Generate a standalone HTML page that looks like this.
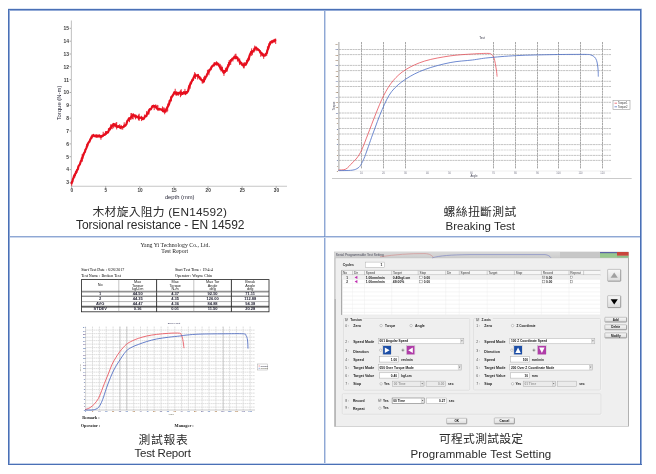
<!DOCTYPE html>
<html><head><meta charset="utf-8"><style>
html,body{margin:0;padding:0;background:#fff;}
body{width:656px;height:474px;position:relative;overflow:hidden;font-family:"Liberation Sans", "Noto Sans CJK TC", sans-serif;}
.cap{position:absolute;color:#2a2a2a;white-space:nowrap;line-height:1;}
</style></head><body>
<div style="position:absolute;left:8px;top:9px;width:634px;height:1px;background:#4a70b6"></div>
<div style="position:absolute;left:9px;top:10px;width:632px;height:1px;background:#93abd7"></div>
<div style="position:absolute;left:8px;top:8px;width:634px;height:1px;background:#dfe7f4"></div>
<div style="position:absolute;left:8px;top:9px;width:1px;height:456px;background:#4a70b6"></div>
<div style="position:absolute;left:9px;top:10px;width:1px;height:454px;background:#93abd7"></div>
<div style="position:absolute;left:640px;top:9px;width:1px;height:456px;background:#4a70b6"></div>
<div style="position:absolute;left:641px;top:9px;width:1px;height:456px;background:#93abd7"></div>
<div style="position:absolute;left:8px;top:464px;width:634px;height:1px;background:#4a70b6"></div>
<div style="position:absolute;left:10px;top:463px;width:630px;height:1px;background:#c3d1ea"></div>
<div style="position:absolute;left:324px;top:11px;width:1px;height:452px;background:#8fa8d4"></div>
<div style="position:absolute;left:325px;top:11px;width:1px;height:452px;background:#cbd7ed"></div>
<div style="position:absolute;left:10px;top:236px;width:630px;height:1px;background:#8fa8d4"></div>
<div style="position:absolute;left:10px;top:237px;width:630px;height:1px;background:#cbd7ed"></div>
<div style="position:absolute;left:324px;top:236px;width:1px;height:1px;background:#6f8fc6"></div>
<svg style="position:absolute;left:0;top:0" width="656" height="474" viewBox="0 0 656 474">
<line x1="71.4" y1="20.5" x2="71.4" y2="186.3" stroke="#c6c6c6" stroke-width="1.1"/>
<line x1="70.9" y1="186.3" x2="287" y2="186.3" stroke="#c6c6c6" stroke-width="1.1"/>
<line x1="69.6" y1="182.4" x2="71" y2="182.4" stroke="#777" stroke-width="0.6"/>
<text transform="translate(68.9,184.2) scale(0.95,1)" font-size="5.2" text-anchor="end" font-family="Liberation Sans, sans-serif" font-weight="bold" fill="#3a3a3a">3</text>
<line x1="69.6" y1="169.6" x2="71" y2="169.6" stroke="#777" stroke-width="0.6"/>
<text transform="translate(68.9,171.4) scale(0.95,1)" font-size="5.2" text-anchor="end" font-family="Liberation Sans, sans-serif" font-weight="bold" fill="#3a3a3a">4</text>
<line x1="69.6" y1="156.7" x2="71" y2="156.7" stroke="#777" stroke-width="0.6"/>
<text transform="translate(68.9,158.5) scale(0.95,1)" font-size="5.2" text-anchor="end" font-family="Liberation Sans, sans-serif" font-weight="bold" fill="#3a3a3a">5</text>
<line x1="69.6" y1="143.9" x2="71" y2="143.9" stroke="#777" stroke-width="0.6"/>
<text transform="translate(68.9,145.7) scale(0.95,1)" font-size="5.2" text-anchor="end" font-family="Liberation Sans, sans-serif" font-weight="bold" fill="#3a3a3a">6</text>
<line x1="69.6" y1="131.0" x2="71" y2="131.0" stroke="#777" stroke-width="0.6"/>
<text transform="translate(68.9,132.8) scale(0.95,1)" font-size="5.2" text-anchor="end" font-family="Liberation Sans, sans-serif" font-weight="bold" fill="#3a3a3a">7</text>
<line x1="69.6" y1="118.2" x2="71" y2="118.2" stroke="#777" stroke-width="0.6"/>
<text transform="translate(68.9,120.0) scale(0.95,1)" font-size="5.2" text-anchor="end" font-family="Liberation Sans, sans-serif" font-weight="bold" fill="#3a3a3a">8</text>
<line x1="69.6" y1="105.4" x2="71" y2="105.4" stroke="#777" stroke-width="0.6"/>
<text transform="translate(68.9,107.2) scale(0.95,1)" font-size="5.2" text-anchor="end" font-family="Liberation Sans, sans-serif" font-weight="bold" fill="#3a3a3a">9</text>
<line x1="69.6" y1="92.5" x2="71" y2="92.5" stroke="#777" stroke-width="0.6"/>
<text transform="translate(68.9,94.3) scale(0.95,1)" font-size="5.2" text-anchor="end" font-family="Liberation Sans, sans-serif" font-weight="bold" fill="#3a3a3a">10</text>
<line x1="69.6" y1="79.7" x2="71" y2="79.7" stroke="#777" stroke-width="0.6"/>
<text transform="translate(68.9,81.5) scale(0.95,1)" font-size="5.2" text-anchor="end" font-family="Liberation Sans, sans-serif" font-weight="bold" fill="#3a3a3a">11</text>
<line x1="69.6" y1="66.8" x2="71" y2="66.8" stroke="#777" stroke-width="0.6"/>
<text transform="translate(68.9,68.6) scale(0.95,1)" font-size="5.2" text-anchor="end" font-family="Liberation Sans, sans-serif" font-weight="bold" fill="#3a3a3a">12</text>
<line x1="69.6" y1="54.0" x2="71" y2="54.0" stroke="#777" stroke-width="0.6"/>
<text transform="translate(68.9,55.8) scale(0.95,1)" font-size="5.2" text-anchor="end" font-family="Liberation Sans, sans-serif" font-weight="bold" fill="#3a3a3a">13</text>
<line x1="69.6" y1="41.2" x2="71" y2="41.2" stroke="#777" stroke-width="0.6"/>
<text transform="translate(68.9,43.0) scale(0.95,1)" font-size="5.2" text-anchor="end" font-family="Liberation Sans, sans-serif" font-weight="bold" fill="#3a3a3a">14</text>
<line x1="69.6" y1="28.3" x2="71" y2="28.3" stroke="#777" stroke-width="0.6"/>
<text transform="translate(68.9,30.1) scale(0.95,1)" font-size="5.2" text-anchor="end" font-family="Liberation Sans, sans-serif" font-weight="bold" fill="#3a3a3a">15</text>
<line x1="71.6" y1="186.6" x2="71.6" y2="187.6" stroke="#555" stroke-width="0.8"/>
<text transform="translate(71.8,192.3) scale(0.9,1)" font-size="5.2" text-anchor="middle" font-family="Liberation Sans, sans-serif" font-weight="bold" fill="#3a3a3a">0</text>
<line x1="105.7" y1="186.6" x2="105.7" y2="187.6" stroke="#555" stroke-width="0.8"/>
<text transform="translate(105.9,192.3) scale(0.9,1)" font-size="5.2" text-anchor="middle" font-family="Liberation Sans, sans-serif" font-weight="bold" fill="#3a3a3a">5</text>
<line x1="139.8" y1="186.6" x2="139.8" y2="187.6" stroke="#555" stroke-width="0.8"/>
<text transform="translate(140.0,192.3) scale(0.9,1)" font-size="5.2" text-anchor="middle" font-family="Liberation Sans, sans-serif" font-weight="bold" fill="#3a3a3a">10</text>
<line x1="173.9" y1="186.6" x2="173.9" y2="187.6" stroke="#555" stroke-width="0.8"/>
<text transform="translate(174.1,192.3) scale(0.9,1)" font-size="5.2" text-anchor="middle" font-family="Liberation Sans, sans-serif" font-weight="bold" fill="#3a3a3a">15</text>
<line x1="208.0" y1="186.6" x2="208.0" y2="187.6" stroke="#555" stroke-width="0.8"/>
<text transform="translate(208.2,192.3) scale(0.9,1)" font-size="5.2" text-anchor="middle" font-family="Liberation Sans, sans-serif" font-weight="bold" fill="#3a3a3a">20</text>
<line x1="242.1" y1="186.6" x2="242.1" y2="187.6" stroke="#555" stroke-width="0.8"/>
<text transform="translate(242.3,192.3) scale(0.9,1)" font-size="5.2" text-anchor="middle" font-family="Liberation Sans, sans-serif" font-weight="bold" fill="#3a3a3a">25</text>
<line x1="276.2" y1="186.6" x2="276.2" y2="187.6" stroke="#555" stroke-width="0.8"/>
<text transform="translate(276.4,192.3) scale(0.9,1)" font-size="5.2" text-anchor="middle" font-family="Liberation Sans, sans-serif" font-weight="bold" fill="#3a3a3a">30</text>
<text transform="translate(179.7,198.5) scale(1.0,1)" font-size="5.8" text-anchor="middle" font-family="Liberation Sans, sans-serif" fill="#2a2a3a">depth (mm)</text>
<text transform="translate(60.8,103) rotate(-90) scale(1.02,1)" font-size="5.8" text-anchor="middle" font-family="Liberation Sans, sans-serif" fill="#2a2a3a">Torque (N-m)</text>
<polyline points="71.40,184.02 71.90,182.22 72.40,181.50 72.90,179.06 73.40,178.28 73.90,176.49 74.40,175.13 74.90,174.99 75.40,173.38 75.90,173.15 76.40,171.71 76.90,170.46 77.40,169.70 77.90,169.06 78.40,166.64 78.90,165.51 79.40,164.96 79.90,164.29 80.40,162.52 80.90,161.05 81.40,160.80 81.90,158.13 82.40,158.25 82.90,156.16 83.40,154.75 83.90,153.52 84.40,152.55 84.90,152.05 85.40,149.73 85.90,149.06 86.40,147.85 86.90,146.30 87.40,145.58 87.90,143.80 88.40,142.80 88.90,142.03 89.40,141.78 89.90,140.35 90.40,139.15 90.90,138.56 91.40,137.33 91.90,136.38 92.40,136.67 92.90,136.02 93.40,134.91 93.90,135.55 94.40,135.58 94.90,136.24 95.40,136.12 95.90,135.52 96.40,136.73 96.90,135.46 97.40,136.05 97.90,136.61 98.40,135.64 98.90,136.18 99.40,135.46 99.90,136.47 100.40,136.62 100.90,136.32 101.40,136.80 101.90,135.83 102.40,136.10 102.90,135.60 103.40,135.24 103.90,134.70 104.40,134.97 104.90,134.75 105.40,133.62 105.90,133.54 106.40,132.19 106.90,132.83 107.40,132.36 107.90,132.43 108.40,131.52 108.90,130.03 109.40,129.55 109.90,129.37 110.40,127.70 110.90,127.77 111.40,126.65 111.90,125.91 112.40,125.16 112.90,125.64 113.40,123.97 113.90,124.05 114.40,124.53 114.90,125.54 115.40,124.53 115.90,125.37 116.40,125.78 116.90,126.56 117.40,126.65 117.90,126.89 118.40,126.12 118.90,126.51 119.40,126.59 119.90,127.60 120.40,127.89 120.90,126.77 121.40,126.98 121.90,127.24 122.40,127.04 122.90,127.15 123.40,127.03 123.90,126.21 124.40,125.51 124.90,125.88 125.40,125.51 125.90,124.90 126.40,124.18 126.90,122.42 127.40,120.79 127.90,120.29 128.40,119.88 128.90,118.39 129.40,119.24 129.90,118.55 130.40,118.20 130.90,117.62 131.40,116.60 131.90,116.23 132.40,115.37 132.90,115.84 133.40,114.82 133.90,115.12 134.40,115.65 134.90,115.87 135.40,116.45 135.90,116.29 136.40,116.50 136.90,116.83 137.40,116.85 137.90,117.36 138.40,116.91 138.90,118.36 139.40,118.04 139.90,117.38 140.40,117.64 140.90,117.87 141.40,117.97 141.90,117.66 142.40,118.91 142.90,119.22 143.40,118.45 143.90,118.56 144.40,117.43 144.90,116.81 145.40,116.56 145.90,115.79 146.40,116.05 146.90,114.15 147.40,113.05 147.90,113.66 148.40,112.10 148.90,110.61 149.40,110.52 149.90,109.01 150.40,109.12 150.90,109.15 151.40,108.28 151.90,107.33 152.40,106.17 152.90,106.22 153.40,105.78 153.90,106.63 154.40,106.12 154.90,106.60 155.40,106.27 155.90,106.49 156.40,107.83 156.90,108.49 157.40,108.67 157.90,108.99 158.40,109.26 158.90,109.38 159.40,108.81 159.90,109.53 160.40,109.52 160.90,109.25 161.40,109.49 161.90,110.08 162.40,110.13 162.90,110.90 163.40,111.40 163.90,110.66 164.40,111.53 164.90,111.69 165.40,111.71 165.90,110.08 166.40,108.97 166.90,108.10 167.40,107.17 167.90,106.30 168.40,105.60 168.90,104.54 169.40,102.94 169.90,100.87 170.40,100.05 170.90,99.19 171.40,96.95 171.90,96.77 172.40,96.07 172.90,95.13 173.40,94.42 173.90,93.32 174.40,92.19 174.90,93.24 175.40,92.59 175.90,93.42 176.40,93.77 176.90,92.93 177.40,93.02 177.90,93.97 178.40,93.65 178.90,92.74 179.40,92.65 179.90,92.67 180.40,93.85 180.90,93.67 181.40,92.59 181.90,93.66 182.40,93.89 182.90,93.35 183.40,92.83 183.90,93.13 184.40,92.44 184.90,92.23 185.40,93.61 185.90,92.86 186.40,92.42 186.90,92.83 187.40,91.79 187.90,91.49 188.40,89.92 188.90,87.44 189.40,86.00 189.90,84.95 190.40,83.85 190.90,83.38 191.40,81.84 191.90,81.07 192.40,79.62 192.90,79.88 193.40,78.01 193.90,77.19 194.40,76.41 194.90,75.94 195.40,74.68 195.90,75.73 196.40,75.33 196.90,75.63 197.40,75.88 197.90,75.42 198.40,76.58 198.90,76.66 199.40,76.85 199.90,78.61 200.40,78.09 200.90,79.06 201.40,79.96 201.90,80.19 202.40,80.32 202.90,81.13 203.40,81.69 203.90,81.24 204.40,79.34 204.90,79.25 205.40,77.87 205.90,76.78 206.40,76.43 206.90,74.86 207.40,73.81 207.90,73.07 208.40,72.58 208.90,71.10 209.40,70.64 209.90,69.74 210.40,69.02 210.90,68.55 211.40,67.40 211.90,66.77 212.40,65.92 212.90,65.91 213.40,65.14 213.90,65.04 214.40,64.77 214.90,63.30 215.40,63.40 215.90,64.26 216.40,64.34 216.90,63.47 217.40,63.69 217.90,64.46 218.40,64.41 218.90,65.30 219.40,65.65 219.90,67.23 220.40,68.03 220.90,68.90 221.40,68.41 221.90,70.01 222.40,70.63 222.90,70.50 223.40,72.39 223.90,72.80 224.40,71.22 224.90,72.01 225.40,70.75 225.90,70.51 226.40,70.68 226.90,69.40 227.40,67.31 227.90,66.72 228.40,65.84 228.90,64.50 229.40,63.16 229.90,62.24 230.40,61.78 230.90,60.03 231.40,60.39 231.90,59.70 232.40,58.53 232.90,58.53 233.40,58.50 233.90,57.82 234.40,56.60 234.90,57.58 235.40,57.29 235.90,57.96 236.40,56.96 236.90,57.59 237.40,57.61 237.90,59.40 238.40,59.35 238.90,59.88 239.40,61.11 239.90,62.65 240.40,63.11 240.90,62.71 241.40,63.04 241.90,64.77 242.40,64.71 242.90,65.42 243.40,64.79 243.90,64.48 244.40,65.23 244.90,64.55 245.40,63.72 245.90,64.71 246.40,63.26 246.90,62.57 247.40,60.46 247.90,60.73 248.40,58.51 248.90,58.38 249.40,56.33 249.90,54.74 250.40,53.68 250.90,52.88 251.40,51.71 251.90,51.37 252.40,51.88 252.90,51.30 253.40,50.98 253.90,50.30 254.40,49.36 254.90,48.84 255.40,48.26 255.90,47.49 256.40,48.70 256.90,48.43 257.40,49.24 257.90,49.21 258.40,49.96 258.90,49.94 259.40,50.83 259.90,50.97 260.40,52.63 260.90,52.86 261.40,52.80 261.90,53.75 262.40,54.96 262.90,54.12 263.40,55.74 263.90,55.60 264.40,55.74 264.90,55.64 265.40,54.29 265.90,53.83 266.40,53.48 266.90,52.91 267.40,50.23 267.90,49.35 268.40,47.49 268.90,46.12 269.40,44.75 269.90,43.66 270.40,42.19 270.90,41.92 271.40,41.58 271.90,42.41 272.40,41.40 272.90,41.01 273.40,40.60 273.90,41.51 274.40,41.26 274.90,40.64 275.40,39.73 275.90,39.37" fill="none" stroke="#e60f1e" stroke-width="2.2" stroke-linejoin="round"/>
<path d="M71.70,181.21V185.82M74.70,174.12V177.98M75.45,171.09V176.32M76.95,168.97V172.88M77.70,166.69V170.25M82.20,153.98V161.69M83.70,153.41V155.81M86.70,143.89V148.10M91.95,134.53V138.70M97.20,134.94V137.34M100.20,135.00V138.18M100.95,135.00V139.78M103.20,131.81V136.45M105.45,131.21V134.82M106.20,131.85V134.99M106.95,131.27V133.67M108.45,128.03V133.03M109.95,127.84V130.24M110.70,124.31V129.28M111.45,124.81V128.31M112.20,124.93V129.19M113.70,123.15V128.28M115.20,123.90V126.96M115.95,122.59V127.61M116.70,122.03V129.45M118.20,125.21V127.61M119.70,124.18V128.12M121.20,124.97V129.47M122.70,126.09V129.73M124.20,122.32V127.62M129.45,117.35V122.16M130.95,113.09V120.04M131.70,112.97V117.74M132.45,114.77V119.11M133.20,113.21V119.37M134.70,115.09V117.49M135.45,114.47V119.36M136.20,114.76V118.38M138.45,114.62V120.29M139.20,113.69V120.82M141.45,115.80V121.07M144.45,114.52V119.22M146.70,111.02V116.25M148.95,108.92V114.52M154.20,104.92V110.13M155.70,104.38V107.98M157.20,104.89V109.15M157.95,105.28V111.05M162.45,106.41V111.72M163.20,107.64V111.84M163.95,107.35V111.96M164.70,108.26V114.31M165.45,109.79V112.19M166.95,107.25V112.22M167.70,103.50V111.21M169.20,100.20V104.20M170.70,96.84V100.35M171.45,95.56V101.46M175.20,88.78V94.03M175.95,91.74V95.64M176.70,91.26V95.71M178.20,92.10V95.96M180.45,90.27V97.21M181.20,89.22V95.96M183.45,91.12V94.27M184.20,91.84V94.24M184.95,88.91V94.21M185.70,91.51V95.17M186.45,91.15V93.55M188.70,85.56V89.70M190.20,81.84V88.70M190.95,81.94V84.34M193.95,74.49V78.36M194.70,72.08V77.64M195.45,73.63V78.98M197.70,73.97V79.50M198.45,73.93V77.93M202.20,79.20V83.56M202.95,79.95V83.54M203.70,77.19V82.31M204.45,75.70V82.24M207.45,69.83V74.80M208.95,69.03V75.25M211.20,66.58V70.21M213.45,63.58V65.98M214.20,62.07V66.62M216.45,61.24V65.02M217.20,61.91V65.40M218.70,62.72V66.67M220.20,63.86V69.81M220.95,67.13V71.49M221.70,65.51V70.59M222.45,66.89V72.26M223.95,70.81V75.93M225.45,67.75V72.07M226.95,67.57V71.78M227.70,64.19V68.44M228.45,61.98V66.91M229.20,60.03V65.29M230.70,59.80V64.97M232.95,57.55V61.52M235.20,53.92V59.40M235.95,53.71V58.45M236.70,56.62V59.02M237.45,57.19V61.62M239.70,58.49V65.07M240.45,60.79V63.85M241.95,62.95V65.35M243.45,63.37V68.26M244.20,62.01V68.36M244.95,63.44V65.84M246.45,60.24V64.15M247.20,60.31V62.71M249.45,55.06V60.36M250.95,50.99V53.39M251.70,48.39V55.96M252.45,50.63V54.83M253.95,47.75V52.65M254.70,45.58V50.82M256.20,46.89V51.16M257.70,48.33V50.73M259.95,50.60V53.00M260.70,51.37V56.75M262.20,52.88V56.30M263.70,54.32V58.85M266.70,50.92V56.08M267.45,46.36V52.66M268.95,43.15V48.46M269.70,43.10V45.50M270.45,41.60V44.92M271.95,39.97V43.20M274.20,38.96V41.99M275.70,38.70V43.95" fill="none" stroke="#e60f1e" stroke-width="0.9"/>
</svg>
<svg style="position:absolute;left:0;top:0" width="656" height="474" viewBox="0 0 656 474">
<line x1="339" y1="49.5" x2="611" y2="49.5" stroke="#c4c4c4" stroke-width="1" stroke-dasharray="2.2,0.5"/>
<line x1="339" y1="54.6" x2="611" y2="54.6" stroke="#c4c4c4" stroke-width="1" stroke-dasharray="2.2,0.5"/>
<line x1="339" y1="65.4" x2="611" y2="65.4" stroke="#c4c4c4" stroke-width="1" stroke-dasharray="2.2,0.5"/>
<line x1="339" y1="70.6" x2="611" y2="70.6" stroke="#c4c4c4" stroke-width="1" stroke-dasharray="2.2,0.5"/>
<line x1="339" y1="81.3" x2="611" y2="81.3" stroke="#c4c4c4" stroke-width="1" stroke-dasharray="2.2,0.5"/>
<line x1="339" y1="86.5" x2="611" y2="86.5" stroke="#c4c4c4" stroke-width="1" stroke-dasharray="2.2,0.5"/>
<line x1="339" y1="97.2" x2="611" y2="97.2" stroke="#c4c4c4" stroke-width="1" stroke-dasharray="2.2,0.5"/>
<line x1="339" y1="102.3" x2="611" y2="102.3" stroke="#c4c4c4" stroke-width="1" stroke-dasharray="2.2,0.5"/>
<line x1="339" y1="113.0" x2="611" y2="113.0" stroke="#c4c4c4" stroke-width="1" stroke-dasharray="2.2,0.5"/>
<line x1="339" y1="118.2" x2="611" y2="118.2" stroke="#c4c4c4" stroke-width="1" stroke-dasharray="2.2,0.5"/>
<line x1="339" y1="128.5" x2="611" y2="128.5" stroke="#c4c4c4" stroke-width="1" stroke-dasharray="2.2,0.5"/>
<line x1="339" y1="134.0" x2="611" y2="134.0" stroke="#c4c4c4" stroke-width="1" stroke-dasharray="2.2,0.5"/>
<line x1="339" y1="144.6" x2="611" y2="144.6" stroke="#c4c4c4" stroke-width="1" stroke-dasharray="2.2,0.5"/>
<line x1="339" y1="150.0" x2="611" y2="150.0" stroke="#d8d8d8" stroke-width="1" stroke-dasharray="2.2,0.5"/>
<line x1="339" y1="155.4" x2="611" y2="155.4" stroke="#c4c4c4" stroke-width="1" stroke-dasharray="2.2,0.5"/>
<line x1="339" y1="160.4" x2="611" y2="160.4" stroke="#c4c4c4" stroke-width="1" stroke-dasharray="2.2,0.5"/>
<line x1="361.5" y1="42" x2="361.5" y2="168.5" stroke="#a8a8a8" stroke-width="1" stroke-dasharray="2.2,0.5"/>
<text x="361.5" y="173.6" font-size="2.6" text-anchor="middle" fill="#778">10</text>
<line x1="383.5" y1="42" x2="383.5" y2="168.5" stroke="#a8a8a8" stroke-width="1" stroke-dasharray="2.2,0.5"/>
<text x="383.5" y="173.6" font-size="2.6" text-anchor="middle" fill="#778">20</text>
<line x1="405.5" y1="42" x2="405.5" y2="168.5" stroke="#a8a8a8" stroke-width="1" stroke-dasharray="2.2,0.5"/>
<text x="405.5" y="173.6" font-size="2.6" text-anchor="middle" fill="#778">30</text>
<text x="427.5" y="173.6" font-size="2.6" text-anchor="middle" fill="#778">40</text>
<text x="449.5" y="173.6" font-size="2.6" text-anchor="middle" fill="#778">50</text>
<text x="471.5" y="173.6" font-size="2.6" text-anchor="middle" fill="#778">60</text>
<line x1="493.5" y1="42" x2="493.5" y2="168.5" stroke="#a8a8a8" stroke-width="1" stroke-dasharray="2.2,0.5"/>
<text x="493.5" y="173.6" font-size="2.6" text-anchor="middle" fill="#778">70</text>
<line x1="515.5" y1="42" x2="515.5" y2="168.5" stroke="#a8a8a8" stroke-width="1" stroke-dasharray="2.2,0.5"/>
<text x="515.5" y="173.6" font-size="2.6" text-anchor="middle" fill="#778">80</text>
<line x1="537.5" y1="42" x2="537.5" y2="168.5" stroke="#a8a8a8" stroke-width="1" stroke-dasharray="2.2,0.5"/>
<text x="537.5" y="173.6" font-size="2.6" text-anchor="middle" fill="#778">90</text>
<line x1="558.5" y1="42" x2="558.5" y2="168.5" stroke="#a8a8a8" stroke-width="1" stroke-dasharray="2.2,0.5"/>
<text x="558.5" y="173.6" font-size="2.6" text-anchor="middle" fill="#778">100</text>
<line x1="580.5" y1="42" x2="580.5" y2="168.5" stroke="#a8a8a8" stroke-width="1" stroke-dasharray="2.2,0.5"/>
<text x="580.5" y="173.6" font-size="2.6" text-anchor="middle" fill="#778">110</text>
<line x1="602.5" y1="42" x2="602.5" y2="168.5" stroke="#a8a8a8" stroke-width="1" stroke-dasharray="2.2,0.5"/>
<text x="602.5" y="173.6" font-size="2.6" text-anchor="middle" fill="#778">120</text>
<line x1="338.9" y1="42" x2="338.9" y2="171" stroke="#8c8c8c" stroke-width="0.8"/>
<line x1="339" y1="171" x2="611" y2="171" stroke="#e4e4e4" stroke-width="0.6"/>
<text x="338.1" y="45.1" font-size="2.3" font-weight="bold" text-anchor="end" fill="#8a6a4a">24</text>
<text x="338.1" y="50.4" font-size="2.3" font-weight="bold" text-anchor="end" fill="#5a6a9a">23</text>
<text x="338.1" y="55.6" font-size="2.3" font-weight="bold" text-anchor="end" fill="#9a7a5a">22</text>
<text x="338.1" y="60.9" font-size="2.3" font-weight="bold" text-anchor="end" fill="#8a6a4a">21</text>
<text x="338.1" y="66.2" font-size="2.3" font-weight="bold" text-anchor="end" fill="#5a6a9a">20</text>
<text x="338.1" y="71.5" font-size="2.3" font-weight="bold" text-anchor="end" fill="#9a7a5a">19</text>
<text x="338.1" y="76.7" font-size="2.3" font-weight="bold" text-anchor="end" fill="#8a6a4a">18</text>
<text x="338.1" y="82.0" font-size="2.3" font-weight="bold" text-anchor="end" fill="#5a6a9a">17</text>
<text x="338.1" y="87.3" font-size="2.3" font-weight="bold" text-anchor="end" fill="#9a7a5a">16</text>
<text x="338.1" y="92.6" font-size="2.3" font-weight="bold" text-anchor="end" fill="#8a6a4a">15</text>
<text x="338.1" y="97.9" font-size="2.3" font-weight="bold" text-anchor="end" fill="#5a6a9a">14</text>
<text x="338.1" y="103.1" font-size="2.3" font-weight="bold" text-anchor="end" fill="#9a7a5a">13</text>
<text x="338.1" y="108.4" font-size="2.3" font-weight="bold" text-anchor="end" fill="#8a6a4a">12</text>
<text x="338.1" y="113.7" font-size="2.3" font-weight="bold" text-anchor="end" fill="#5a6a9a">11</text>
<text x="338.1" y="119.0" font-size="2.3" font-weight="bold" text-anchor="end" fill="#9a7a5a">10</text>
<text x="338.1" y="124.2" font-size="2.3" font-weight="bold" text-anchor="end" fill="#8a6a4a">9</text>
<text x="338.1" y="129.5" font-size="2.3" font-weight="bold" text-anchor="end" fill="#5a6a9a">8</text>
<text x="338.1" y="134.8" font-size="2.3" font-weight="bold" text-anchor="end" fill="#9a7a5a">7</text>
<text x="338.1" y="140.1" font-size="2.3" font-weight="bold" text-anchor="end" fill="#8a6a4a">6</text>
<text x="338.1" y="145.3" font-size="2.3" font-weight="bold" text-anchor="end" fill="#5a6a9a">5</text>
<text x="338.1" y="150.6" font-size="2.3" font-weight="bold" text-anchor="end" fill="#9a7a5a">4</text>
<text x="338.1" y="155.9" font-size="2.3" font-weight="bold" text-anchor="end" fill="#8a6a4a">3</text>
<text x="338.1" y="161.2" font-size="2.3" font-weight="bold" text-anchor="end" fill="#5a6a9a">2</text>
<text x="338.1" y="166.5" font-size="2.3" font-weight="bold" text-anchor="end" fill="#9a7a5a">1</text>
<text x="338.1" y="171.7" font-size="2.3" font-weight="bold" text-anchor="end" fill="#8a6a4a">0</text>
<line x1="332" y1="178.5" x2="631.7" y2="178.5" stroke="#bdbdbd" stroke-width="0.8"/>
<text x="482" y="39" font-size="3" text-anchor="middle" fill="#334">Test</text>
<text transform="translate(334.5,106) rotate(-90)" font-size="2.8" text-anchor="middle" fill="#445">Torque</text>
<text x="474" y="177" font-size="2.8" text-anchor="middle" fill="#445">Angle</text>
<path d="M338.50,170.00 C339.72,169.85 343.53,170.27 345.80,169.10 C348.07,167.93 350.25,164.85 352.10,163.00 C353.95,161.15 355.32,160.15 356.90,158.00 C358.48,155.85 359.77,154.05 361.60,150.10 C363.43,146.15 365.53,140.35 367.90,134.30 C370.27,128.25 373.17,120.27 375.80,113.80 C378.43,107.33 380.80,101.03 383.70,95.50 C386.60,89.97 389.50,84.93 393.20,80.60 C396.90,76.27 400.63,72.77 405.90,69.50 C411.17,66.23 417.43,63.27 424.80,61.00 C432.17,58.73 442.18,57.07 450.10,55.90 C458.02,54.73 465.98,54.42 472.30,54.00 C478.62,53.58 484.80,53.35 488.00,53.40 C491.20,53.45 490.53,53.62 491.50,54.30 C492.47,54.98 493.17,55.97 493.80,57.50 C494.43,59.03 494.87,61.42 495.30,63.50 C495.73,65.58 496.10,67.82 496.40,70.00 C496.70,72.18 496.98,75.50 497.10,76.60" fill="none" stroke="#e4525a" stroke-width="0.8"/>
<path d="M338.50,170.60 C340.77,170.53 348.85,170.63 352.10,170.20 C355.35,169.77 356.52,168.95 358.00,168.00 C359.48,167.05 359.87,166.42 361.00,164.50 C362.13,162.58 362.85,161.53 364.80,156.50 C366.75,151.47 369.80,142.13 372.70,134.30 C375.60,126.47 379.05,116.62 382.20,109.50 C385.35,102.38 387.65,96.68 391.60,91.60 C395.55,86.52 400.37,82.68 405.90,79.00 C411.43,75.32 417.43,72.23 424.80,69.50 C432.17,66.77 442.18,64.18 450.10,62.60 C458.02,61.02 465.98,60.80 472.30,60.00 C478.62,59.20 480.62,58.53 488.00,57.80 C495.38,57.07 505.73,56.13 516.60,55.60 C527.47,55.07 541.80,54.80 553.20,54.60 C564.60,54.40 578.70,54.33 585.00,54.40 C591.30,54.47 589.42,54.57 591.00,55.00 C592.58,55.43 593.57,56.08 594.50,57.00 C595.43,57.92 596.07,59.00 596.60,60.50 C597.13,62.00 597.43,64.08 597.70,66.00 C597.97,67.92 598.10,70.23 598.20,72.00 C598.30,73.77 598.28,75.83 598.30,76.60" fill="none" stroke="#4a6cc4" stroke-width="0.8"/>
<rect x="613" y="100.5" width="17" height="9" fill="#fff" stroke="#999" stroke-width="0.6"/>
<line x1="614.5" y1="103.2" x2="617" y2="103.2" stroke="#e8404a" stroke-width="0.7"/>
<line x1="614.5" y1="106.8" x2="617" y2="106.8" stroke="#3d63c0" stroke-width="0.7"/>
<text x="618" y="104" font-size="2.6" fill="#333">Torque1</text>
<text x="618" y="107.6" font-size="2.6" fill="#333">Torque2</text>
</svg>
<div class="m" style="position:absolute;left:140.5px;top:242.6px;font-size:5.8px;line-height:1;white-space:nowrap;font-family:'Liberation Serif',serif;color:#222;">Yang Yi Technology Co., Ltd.</div>
<div class="m" style="position:absolute;left:161.3px;top:249.4px;font-size:5.8px;line-height:1;white-space:nowrap;font-family:'Liberation Serif',serif;color:#222;">Test Report</div>
<div class="m" style="position:absolute;left:81.2px;top:267.8px;font-size:4.0px;line-height:1;white-space:nowrap;font-family:'Liberation Serif',serif;color:#000;">Start Test Date : 6/26/2017</div>
<div class="m" style="position:absolute;left:175px;top:267.8px;font-size:4.0px;line-height:1;white-space:nowrap;font-family:'Liberation Serif',serif;color:#000;">Start Test Time : 19:4:4</div>
<div class="m" style="position:absolute;left:81.2px;top:274.4px;font-size:4.0px;line-height:1;white-space:nowrap;font-family:'Liberation Serif',serif;color:#000;">Test Name : Broken Test</div>
<div class="m" style="position:absolute;left:175px;top:274.4px;font-size:4.0px;line-height:1;white-space:nowrap;font-family:'Liberation Serif',serif;color:#000;">Operator : Wayne Chin</div>
<svg style="position:absolute;left:0;top:0" width="656" height="474" viewBox="0 0 656 474">
<rect x="81.5" y="279.6" width="187.5" height="32.19999999999999" fill="none" stroke="#222" stroke-width="0.8"/>
<line x1="118.8" y1="279.6" x2="118.8" y2="311.8" stroke="#888" stroke-width="0.5"/>
<line x1="156.6" y1="279.6" x2="156.6" y2="311.8" stroke="#222" stroke-width="0.9"/>
<line x1="193.8" y1="279.6" x2="193.8" y2="311.8" stroke="#888" stroke-width="0.5"/>
<line x1="231.4" y1="279.6" x2="231.4" y2="311.8" stroke="#222" stroke-width="0.9"/>
<line x1="81.5" y1="291.3" x2="269" y2="291.3" stroke="#444" stroke-width="0.7"/>
<line x1="81.5" y1="292.3" x2="269" y2="292.3" stroke="#777" stroke-width="0.5"/>
<line x1="81.5" y1="296.2" x2="269" y2="296.2" stroke="#333" stroke-width="0.8"/>
<line x1="81.5" y1="301.6" x2="269" y2="301.6" stroke="#666" stroke-width="0.5"/>
<line x1="81.5" y1="306.3" x2="269" y2="306.3" stroke="#222" stroke-width="0.9"/>
<line x1="81.5" y1="307.5" x2="269" y2="307.5" stroke="#555" stroke-width="0.6"/>
</svg>
<div class="m" style="position:absolute;left:85.2px;width:30px;text-align:center;top:284.2px;font-size:3.8px;line-height:1;font-family:'Liberation Sans',sans-serif;color:#222">No</div>
<div class="m" style="position:absolute;left:122.7px;width:30px;text-align:center;top:281.0px;font-size:3.8px;line-height:1;font-family:'Liberation Sans',sans-serif;color:#222">Max</div>
<div class="m" style="position:absolute;left:122.7px;width:30px;text-align:center;top:284.7px;font-size:3.8px;line-height:1;font-family:'Liberation Sans',sans-serif;color:#222">Torque</div>
<div class="m" style="position:absolute;left:122.7px;width:30px;text-align:center;top:288.4px;font-size:3.8px;line-height:1;font-family:'Liberation Sans',sans-serif;color:#222">kgf-cm</div>
<div class="m" style="position:absolute;left:160.2px;width:30px;text-align:center;top:281.0px;font-size:3.8px;line-height:1;font-family:'Liberation Sans',sans-serif;color:#222">Max</div>
<div class="m" style="position:absolute;left:160.2px;width:30px;text-align:center;top:284.7px;font-size:3.8px;line-height:1;font-family:'Liberation Sans',sans-serif;color:#222">Torque</div>
<div class="m" style="position:absolute;left:160.2px;width:30px;text-align:center;top:288.4px;font-size:3.8px;line-height:1;font-family:'Liberation Sans',sans-serif;color:#222">N-m</div>
<div class="m" style="position:absolute;left:197.6px;width:30px;text-align:center;top:281.0px;font-size:3.8px;line-height:1;font-family:'Liberation Sans',sans-serif;color:#222">Max Tor</div>
<div class="m" style="position:absolute;left:197.6px;width:30px;text-align:center;top:284.7px;font-size:3.8px;line-height:1;font-family:'Liberation Sans',sans-serif;color:#222">Angle</div>
<div class="m" style="position:absolute;left:197.6px;width:30px;text-align:center;top:288.4px;font-size:3.8px;line-height:1;font-family:'Liberation Sans',sans-serif;color:#222">deg</div>
<div class="m" style="position:absolute;left:235.2px;width:30px;text-align:center;top:281.0px;font-size:3.8px;line-height:1;font-family:'Liberation Sans',sans-serif;color:#222">Break</div>
<div class="m" style="position:absolute;left:235.2px;width:30px;text-align:center;top:284.7px;font-size:3.8px;line-height:1;font-family:'Liberation Sans',sans-serif;color:#222">Angle</div>
<div class="m" style="position:absolute;left:235.2px;width:30px;text-align:center;top:288.4px;font-size:3.8px;line-height:1;font-family:'Liberation Sans',sans-serif;color:#222">deg</div>
<div class="m" style="position:absolute;left:85.2px;width:30px;text-align:center;top:291.9px;font-size:4px;line-height:1;font-family:'Liberation Sans',sans-serif;font-weight:bold;color:#223">1</div>
<div class="m" style="position:absolute;left:122.7px;width:30px;text-align:center;top:291.9px;font-size:4px;line-height:1;font-family:'Liberation Sans',sans-serif;font-weight:bold;color:#223">44.50</div>
<div class="m" style="position:absolute;left:160.2px;width:30px;text-align:center;top:291.9px;font-size:4px;line-height:1;font-family:'Liberation Sans',sans-serif;font-weight:bold;color:#223">4.37</div>
<div class="m" style="position:absolute;left:197.6px;width:30px;text-align:center;top:291.9px;font-size:4px;line-height:1;font-family:'Liberation Sans',sans-serif;font-weight:bold;color:#223">92.50</div>
<div class="m" style="position:absolute;left:235.2px;width:30px;text-align:center;top:291.9px;font-size:4px;line-height:1;font-family:'Liberation Sans',sans-serif;font-weight:bold;color:#223">71.11</div>
<div class="m" style="position:absolute;left:85.2px;width:30px;text-align:center;top:297.0px;font-size:4px;line-height:1;font-family:'Liberation Sans',sans-serif;font-weight:bold;color:#223">2</div>
<div class="m" style="position:absolute;left:122.7px;width:30px;text-align:center;top:297.0px;font-size:4px;line-height:1;font-family:'Liberation Sans',sans-serif;font-weight:bold;color:#223">44.35</div>
<div class="m" style="position:absolute;left:160.2px;width:30px;text-align:center;top:297.0px;font-size:4px;line-height:1;font-family:'Liberation Sans',sans-serif;font-weight:bold;color:#223">4.35</div>
<div class="m" style="position:absolute;left:197.6px;width:30px;text-align:center;top:297.0px;font-size:4px;line-height:1;font-family:'Liberation Sans',sans-serif;font-weight:bold;color:#223">126.00</div>
<div class="m" style="position:absolute;left:235.2px;width:30px;text-align:center;top:297.0px;font-size:4px;line-height:1;font-family:'Liberation Sans',sans-serif;font-weight:bold;color:#223">112.88</div>
<div class="m" style="position:absolute;left:85.2px;width:30px;text-align:center;top:302.1px;font-size:4px;line-height:1;font-family:'Liberation Sans',sans-serif;font-weight:bold;color:#223">AVG</div>
<div class="m" style="position:absolute;left:122.7px;width:30px;text-align:center;top:302.1px;font-size:4px;line-height:1;font-family:'Liberation Sans',sans-serif;font-weight:bold;color:#223">44.47</div>
<div class="m" style="position:absolute;left:160.2px;width:30px;text-align:center;top:302.1px;font-size:4px;line-height:1;font-family:'Liberation Sans',sans-serif;font-weight:bold;color:#223">4.36</div>
<div class="m" style="position:absolute;left:197.6px;width:30px;text-align:center;top:302.1px;font-size:4px;line-height:1;font-family:'Liberation Sans',sans-serif;font-weight:bold;color:#223">84.88</div>
<div class="m" style="position:absolute;left:235.2px;width:30px;text-align:center;top:302.1px;font-size:4px;line-height:1;font-family:'Liberation Sans',sans-serif;font-weight:bold;color:#223">94.38</div>
<div class="m" style="position:absolute;left:85.2px;width:30px;text-align:center;top:307.2px;font-size:4px;line-height:1;font-family:'Liberation Sans',sans-serif;font-weight:bold;color:#223">STDEV</div>
<div class="m" style="position:absolute;left:122.7px;width:30px;text-align:center;top:307.2px;font-size:4px;line-height:1;font-family:'Liberation Sans',sans-serif;font-weight:bold;color:#223">0.16</div>
<div class="m" style="position:absolute;left:160.2px;width:30px;text-align:center;top:307.2px;font-size:4px;line-height:1;font-family:'Liberation Sans',sans-serif;font-weight:bold;color:#223">0.01</div>
<div class="m" style="position:absolute;left:197.6px;width:30px;text-align:center;top:307.2px;font-size:4px;line-height:1;font-family:'Liberation Sans',sans-serif;font-weight:bold;color:#223">11.50</div>
<div class="m" style="position:absolute;left:235.2px;width:30px;text-align:center;top:307.2px;font-size:4px;line-height:1;font-family:'Liberation Sans',sans-serif;font-weight:bold;color:#223">20.28</div>
<svg style="position:absolute;left:0;top:0" width="656" height="474" viewBox="0 0 656 474">
<line x1="85" y1="330.1" x2="255" y2="330.1" stroke="#d6d6d6" stroke-width="0.8" stroke-dasharray="1.6,0.5"/>
<line x1="85" y1="333.6" x2="255" y2="333.6" stroke="#d6d6d6" stroke-width="0.8" stroke-dasharray="1.6,0.5"/>
<line x1="85" y1="337.1" x2="255" y2="337.1" stroke="#d6d6d6" stroke-width="0.8" stroke-dasharray="1.6,0.5"/>
<line x1="85" y1="340.6" x2="255" y2="340.6" stroke="#d6d6d6" stroke-width="0.8" stroke-dasharray="1.6,0.5"/>
<line x1="85" y1="344.1" x2="255" y2="344.1" stroke="#d6d6d6" stroke-width="0.8" stroke-dasharray="1.6,0.5"/>
<line x1="85" y1="347.6" x2="255" y2="347.6" stroke="#d6d6d6" stroke-width="0.8" stroke-dasharray="1.6,0.5"/>
<line x1="85" y1="351.1" x2="255" y2="351.1" stroke="#d6d6d6" stroke-width="0.8" stroke-dasharray="1.6,0.5"/>
<line x1="85" y1="354.6" x2="255" y2="354.6" stroke="#d6d6d6" stroke-width="0.8" stroke-dasharray="1.6,0.5"/>
<line x1="85" y1="358.1" x2="255" y2="358.1" stroke="#d6d6d6" stroke-width="0.8" stroke-dasharray="1.6,0.5"/>
<line x1="85" y1="361.6" x2="255" y2="361.6" stroke="#d6d6d6" stroke-width="0.8" stroke-dasharray="1.6,0.5"/>
<line x1="85" y1="365.1" x2="255" y2="365.1" stroke="#d6d6d6" stroke-width="0.8" stroke-dasharray="1.6,0.5"/>
<line x1="85" y1="368.6" x2="255" y2="368.6" stroke="#d6d6d6" stroke-width="0.8" stroke-dasharray="1.6,0.5"/>
<line x1="85" y1="372.1" x2="255" y2="372.1" stroke="#d6d6d6" stroke-width="0.8" stroke-dasharray="1.6,0.5"/>
<line x1="85" y1="375.6" x2="255" y2="375.6" stroke="#d6d6d6" stroke-width="0.8" stroke-dasharray="1.6,0.5"/>
<line x1="85" y1="379.1" x2="255" y2="379.1" stroke="#d6d6d6" stroke-width="0.8" stroke-dasharray="1.6,0.5"/>
<line x1="85" y1="382.6" x2="255" y2="382.6" stroke="#d6d6d6" stroke-width="0.8" stroke-dasharray="1.6,0.5"/>
<line x1="85" y1="386.1" x2="255" y2="386.1" stroke="#d6d6d6" stroke-width="0.8" stroke-dasharray="1.6,0.5"/>
<line x1="85" y1="389.6" x2="255" y2="389.6" stroke="#d6d6d6" stroke-width="0.8" stroke-dasharray="1.6,0.5"/>
<line x1="85" y1="393.1" x2="255" y2="393.1" stroke="#d6d6d6" stroke-width="0.8" stroke-dasharray="1.6,0.5"/>
<line x1="85" y1="396.6" x2="255" y2="396.6" stroke="#d6d6d6" stroke-width="0.8" stroke-dasharray="1.6,0.5"/>
<line x1="85" y1="400.1" x2="255" y2="400.1" stroke="#d6d6d6" stroke-width="0.8" stroke-dasharray="1.6,0.5"/>
<line x1="85" y1="403.6" x2="255" y2="403.6" stroke="#d6d6d6" stroke-width="0.8" stroke-dasharray="1.6,0.5"/>
<line x1="85" y1="407.1" x2="255" y2="407.1" stroke="#d6d6d6" stroke-width="0.8" stroke-dasharray="1.6,0.5"/>
<line x1="92.5" y1="326.6" x2="92.5" y2="410" stroke="#d4d4d4" stroke-width="0.8" stroke-dasharray="1.6,0.5"/>
<line x1="99.4" y1="326.6" x2="99.4" y2="410" stroke="#d4d4d4" stroke-width="0.8" stroke-dasharray="1.6,0.5"/>
<line x1="106.2" y1="326.6" x2="106.2" y2="410" stroke="#d4d4d4" stroke-width="0.8" stroke-dasharray="1.6,0.5"/>
<line x1="113.1" y1="326.6" x2="113.1" y2="410" stroke="#d4d4d4" stroke-width="0.8" stroke-dasharray="1.6,0.5"/>
<line x1="120.0" y1="326.6" x2="120.0" y2="410" stroke="#d4d4d4" stroke-width="0.8" stroke-dasharray="1.6,0.5"/>
<line x1="126.8" y1="326.6" x2="126.8" y2="410" stroke="#d4d4d4" stroke-width="0.8" stroke-dasharray="1.6,0.5"/>
<line x1="133.7" y1="326.6" x2="133.7" y2="410" stroke="#d4d4d4" stroke-width="0.8" stroke-dasharray="1.6,0.5"/>
<line x1="140.5" y1="326.6" x2="140.5" y2="410" stroke="#d4d4d4" stroke-width="0.8" stroke-dasharray="1.6,0.5"/>
<line x1="147.3" y1="326.6" x2="147.3" y2="410" stroke="#d4d4d4" stroke-width="0.8" stroke-dasharray="1.6,0.5"/>
<line x1="154.2" y1="326.6" x2="154.2" y2="410" stroke="#d4d4d4" stroke-width="0.8" stroke-dasharray="1.6,0.5"/>
<line x1="161.1" y1="326.6" x2="161.1" y2="410" stroke="#d4d4d4" stroke-width="0.8" stroke-dasharray="1.6,0.5"/>
<line x1="167.9" y1="326.6" x2="167.9" y2="410" stroke="#d4d4d4" stroke-width="0.8" stroke-dasharray="1.6,0.5"/>
<line x1="174.8" y1="326.6" x2="174.8" y2="410" stroke="#d4d4d4" stroke-width="0.8" stroke-dasharray="1.6,0.5"/>
<line x1="181.6" y1="326.6" x2="181.6" y2="410" stroke="#d4d4d4" stroke-width="0.8" stroke-dasharray="1.6,0.5"/>
<line x1="188.4" y1="326.6" x2="188.4" y2="410" stroke="#d4d4d4" stroke-width="0.8" stroke-dasharray="1.6,0.5"/>
<line x1="195.3" y1="326.6" x2="195.3" y2="410" stroke="#d4d4d4" stroke-width="0.8" stroke-dasharray="1.6,0.5"/>
<line x1="202.1" y1="326.6" x2="202.1" y2="410" stroke="#d4d4d4" stroke-width="0.8" stroke-dasharray="1.6,0.5"/>
<line x1="209.0" y1="326.6" x2="209.0" y2="410" stroke="#d4d4d4" stroke-width="0.8" stroke-dasharray="1.6,0.5"/>
<line x1="215.9" y1="326.6" x2="215.9" y2="410" stroke="#d4d4d4" stroke-width="0.8" stroke-dasharray="1.6,0.5"/>
<line x1="222.7" y1="326.6" x2="222.7" y2="410" stroke="#d4d4d4" stroke-width="0.8" stroke-dasharray="1.6,0.5"/>
<line x1="229.6" y1="326.6" x2="229.6" y2="410" stroke="#d4d4d4" stroke-width="0.8" stroke-dasharray="1.6,0.5"/>
<line x1="236.4" y1="326.6" x2="236.4" y2="410" stroke="#d4d4d4" stroke-width="0.8" stroke-dasharray="1.6,0.5"/>
<line x1="243.2" y1="326.6" x2="243.2" y2="410" stroke="#d4d4d4" stroke-width="0.8" stroke-dasharray="1.6,0.5"/>
<line x1="250.1" y1="326.6" x2="250.1" y2="410" stroke="#d4d4d4" stroke-width="0.8" stroke-dasharray="1.6,0.5"/>
<line x1="119.9" y1="326.6" x2="119.9" y2="410" stroke="#666" stroke-width="0.7" opacity="0.35"/>
<line x1="126.8" y1="326.6" x2="126.8" y2="410" stroke="#666" stroke-width="0.7" opacity="0.35"/>
<line x1="223.4" y1="326.6" x2="223.4" y2="410" stroke="#666" stroke-width="0.7" opacity="0.35"/>
<line x1="85.6" y1="326.6" x2="85.6" y2="410" stroke="#c4c4c4" stroke-width="0.7"/>
<text x="84.3" y="328.20" font-size="2.3" font-weight="bold" text-anchor="middle" fill="#4a6aa8">24</text>
<text x="84.3" y="331.63" font-size="2.3" font-weight="bold" text-anchor="middle" fill="#7a8ab8">23</text>
<text x="84.3" y="335.06" font-size="2.3" font-weight="bold" text-anchor="middle" fill="#6a5a90">22</text>
<text x="84.3" y="338.49" font-size="2.3" font-weight="bold" text-anchor="middle" fill="#4a6aa8">21</text>
<text x="84.3" y="341.92" font-size="2.3" font-weight="bold" text-anchor="middle" fill="#7a8ab8">20</text>
<text x="84.3" y="345.35" font-size="2.3" font-weight="bold" text-anchor="middle" fill="#6a5a90">19</text>
<text x="84.3" y="348.78" font-size="2.3" font-weight="bold" text-anchor="middle" fill="#4a6aa8">18</text>
<text x="84.3" y="352.21" font-size="2.3" font-weight="bold" text-anchor="middle" fill="#7a8ab8">17</text>
<text x="84.3" y="355.64" font-size="2.3" font-weight="bold" text-anchor="middle" fill="#6a5a90">16</text>
<text x="84.3" y="359.07" font-size="2.3" font-weight="bold" text-anchor="middle" fill="#4a6aa8">15</text>
<text x="84.3" y="362.50" font-size="2.3" font-weight="bold" text-anchor="middle" fill="#7a8ab8">14</text>
<text x="84.3" y="365.93" font-size="2.3" font-weight="bold" text-anchor="middle" fill="#6a5a90">13</text>
<text x="84.3" y="369.36" font-size="2.3" font-weight="bold" text-anchor="middle" fill="#4a6aa8">12</text>
<text x="84.3" y="372.79" font-size="2.3" font-weight="bold" text-anchor="middle" fill="#7a8ab8">11</text>
<text x="84.3" y="376.22" font-size="2.3" font-weight="bold" text-anchor="middle" fill="#6a5a90">10</text>
<text x="84.3" y="379.65" font-size="2.3" font-weight="bold" text-anchor="middle" fill="#4a6aa8">9</text>
<text x="84.3" y="383.08" font-size="2.3" font-weight="bold" text-anchor="middle" fill="#7a8ab8">8</text>
<text x="84.3" y="386.51" font-size="2.3" font-weight="bold" text-anchor="middle" fill="#6a5a90">7</text>
<text x="84.3" y="389.94" font-size="2.3" font-weight="bold" text-anchor="middle" fill="#4a6aa8">6</text>
<text x="84.3" y="393.37" font-size="2.3" font-weight="bold" text-anchor="middle" fill="#7a8ab8">5</text>
<text x="84.3" y="396.80" font-size="2.3" font-weight="bold" text-anchor="middle" fill="#6a5a90">4</text>
<text x="84.3" y="400.23" font-size="2.3" font-weight="bold" text-anchor="middle" fill="#4a6aa8">3</text>
<text x="84.3" y="403.66" font-size="2.3" font-weight="bold" text-anchor="middle" fill="#7a8ab8">2</text>
<text x="84.3" y="407.09" font-size="2.3" font-weight="bold" text-anchor="middle" fill="#6a5a90">1</text>
<text x="84.3" y="410.52" font-size="2.3" font-weight="bold" text-anchor="middle" fill="#4a6aa8">0</text>
<text x="85.70" y="412.4" font-size="2.2" font-weight="bold" text-anchor="middle" fill="#5a7ab8">0</text>
<text x="92.55" y="412.4" font-size="2.2" font-weight="bold" text-anchor="middle" fill="#b08050">5</text>
<text x="99.40" y="412.4" font-size="2.2" font-weight="bold" text-anchor="middle" fill="#7a7aa8">10</text>
<text x="106.25" y="412.4" font-size="2.2" font-weight="bold" text-anchor="middle" fill="#5a7ab8">15</text>
<text x="113.10" y="412.4" font-size="2.2" font-weight="bold" text-anchor="middle" fill="#b08050">20</text>
<text x="119.95" y="412.4" font-size="2.2" font-weight="bold" text-anchor="middle" fill="#7a7aa8">25</text>
<text x="126.80" y="412.4" font-size="2.2" font-weight="bold" text-anchor="middle" fill="#5a7ab8">30</text>
<text x="133.65" y="412.4" font-size="2.2" font-weight="bold" text-anchor="middle" fill="#b08050">35</text>
<text x="140.50" y="412.4" font-size="2.2" font-weight="bold" text-anchor="middle" fill="#7a7aa8">40</text>
<text x="147.35" y="412.4" font-size="2.2" font-weight="bold" text-anchor="middle" fill="#5a7ab8">45</text>
<text x="154.20" y="412.4" font-size="2.2" font-weight="bold" text-anchor="middle" fill="#b08050">50</text>
<text x="161.05" y="412.4" font-size="2.2" font-weight="bold" text-anchor="middle" fill="#7a7aa8">55</text>
<text x="167.90" y="412.4" font-size="2.2" font-weight="bold" text-anchor="middle" fill="#5a7ab8">60</text>
<text x="174.75" y="412.4" font-size="2.2" font-weight="bold" text-anchor="middle" fill="#b08050">65</text>
<text x="181.60" y="412.4" font-size="2.2" font-weight="bold" text-anchor="middle" fill="#7a7aa8">70</text>
<text x="188.45" y="412.4" font-size="2.2" font-weight="bold" text-anchor="middle" fill="#5a7ab8">75</text>
<text x="195.30" y="412.4" font-size="2.2" font-weight="bold" text-anchor="middle" fill="#b08050">80</text>
<text x="202.15" y="412.4" font-size="2.2" font-weight="bold" text-anchor="middle" fill="#7a7aa8">85</text>
<text x="209.00" y="412.4" font-size="2.2" font-weight="bold" text-anchor="middle" fill="#5a7ab8">90</text>
<text x="215.85" y="412.4" font-size="2.2" font-weight="bold" text-anchor="middle" fill="#b08050">95</text>
<text x="222.70" y="412.4" font-size="2.2" font-weight="bold" text-anchor="middle" fill="#7a7aa8">100</text>
<text x="229.55" y="412.4" font-size="2.2" font-weight="bold" text-anchor="middle" fill="#5a7ab8">105</text>
<text x="236.40" y="412.4" font-size="2.2" font-weight="bold" text-anchor="middle" fill="#b08050">110</text>
<text x="243.25" y="412.4" font-size="2.2" font-weight="bold" text-anchor="middle" fill="#7a7aa8">115</text>
<text x="250.10" y="412.4" font-size="2.2" font-weight="bold" text-anchor="middle" fill="#5a7ab8">120</text>
<line x1="85" y1="410" x2="255" y2="410" stroke="#aaa" stroke-width="0.6"/>
<text x="174" y="324.3" font-size="2.4" text-anchor="middle" fill="#446">Broken Test</text>
<text x="171" y="414.6" font-size="2.3" text-anchor="middle" fill="#665">Angle</text>
<text transform="translate(80.6,368) rotate(-90)" font-size="2.3" text-anchor="middle" fill="#665">Torque</text>
<path d="M85.00,409.70 C85.85,409.35 88.50,408.58 90.10,407.60 C91.70,406.62 93.22,405.32 94.60,403.80 C95.98,402.28 97.38,400.27 98.40,398.50 C99.42,396.73 99.93,395.10 100.70,393.20 C101.47,391.30 102.12,389.38 103.00,387.10 C103.88,384.82 104.98,382.03 106.00,379.50 C107.02,376.97 108.08,374.43 109.10,371.90 C110.12,369.37 110.97,366.70 112.10,364.30 C113.23,361.90 114.58,359.65 115.90,357.50 C117.22,355.35 118.30,353.55 120.00,351.40 C121.70,349.25 124.07,346.35 126.10,344.60 C128.13,342.85 130.17,341.93 132.20,340.90 C134.23,339.87 135.87,339.22 138.30,338.40 C140.73,337.58 143.75,336.67 146.80,336.00 C149.85,335.33 152.93,334.85 156.60,334.40 C160.27,333.95 164.97,333.50 168.80,333.30 C172.63,333.10 177.50,332.88 179.60,333.20 C181.70,333.52 180.87,334.13 181.40,335.20 C181.93,336.27 182.37,337.43 182.80,339.60 C183.23,341.77 183.80,346.77 184.00,348.20" fill="none" stroke="#e8505a" stroke-width="0.85"/>
<path d="M85.00,410.00 C86.35,409.98 90.87,410.30 93.10,409.90 C95.33,409.50 97.00,408.87 98.40,407.60 C99.80,406.33 100.60,404.20 101.50,402.30 C102.40,400.40 102.92,398.73 103.80,396.20 C104.68,393.67 105.67,390.27 106.80,387.10 C107.93,383.93 109.33,380.23 110.60,377.20 C111.87,374.17 113.00,371.55 114.40,368.90 C115.80,366.25 117.05,364.25 119.00,361.30 C120.95,358.35 123.90,353.58 126.10,351.20 C128.30,348.82 130.17,348.12 132.20,347.00 C134.23,345.88 135.87,345.42 138.30,344.50 C140.73,343.58 143.75,342.42 146.80,341.50 C149.85,340.58 152.93,339.72 156.60,339.00 C160.27,338.28 164.93,337.70 168.80,337.20 C172.67,336.70 176.75,336.37 179.80,336.00 C182.85,335.63 183.73,335.32 187.10,335.00 C190.47,334.68 193.98,334.30 200.00,334.10 C206.02,333.90 216.02,333.85 223.20,333.80 C230.38,333.75 239.30,333.52 243.10,333.80 C246.90,334.08 245.27,334.47 246.00,335.50 C246.73,336.53 247.17,337.82 247.50,340.00 C247.83,342.18 247.92,347.17 248.00,348.60" fill="none" stroke="#4a68c0" stroke-width="0.85"/>
<rect x="257.5" y="364" width="9.8" height="6" fill="#fff" stroke="#aaa" stroke-width="0.5"/>
<line x1="258.5" y1="366" x2="260" y2="366" stroke="#e8404a" stroke-width="0.5"/>
<line x1="258.5" y1="368.3" x2="260" y2="368.3" stroke="#3d63c0" stroke-width="0.5"/>
<text x="260.6" y="366.7" font-size="1.9" font-weight="bold" fill="#445">Torque1</text>
<text x="260.6" y="369.1" font-size="1.9" font-weight="bold" fill="#776">Torque2</text>
</svg>
<div class="m" style="position:absolute;left:82.2px;top:416.2px;font-size:4.3px;line-height:1;white-space:nowrap;font-family:'Liberation Serif',serif;color:#222;font-weight:bold;">Remark :</div>
<div class="m" style="position:absolute;left:80.7px;top:423.5px;font-size:4.3px;line-height:1;white-space:nowrap;font-family:'Liberation Serif',serif;color:#222;font-weight:bold;">Operator :</div>
<div class="m" style="position:absolute;left:174.6px;top:423.5px;font-size:4.3px;line-height:1;white-space:nowrap;font-family:'Liberation Serif',serif;color:#222;font-weight:bold;">Manager :</div>
<svg style="position:absolute;left:0;top:0" width="656" height="474" viewBox="0 0 656 474" font-family="Liberation Sans, sans-serif">
<rect x="334.70" y="252.00" width="294.00" height="174.40" fill="#efefef" stroke="#b0b0b0" stroke-width="0.5" />
<line x1="335.20" y1="258.00" x2="335.20" y2="299.00" stroke="#b4b4b4" stroke-width="0.6" />
<line x1="335.20" y1="299.00" x2="335.20" y2="426.40" stroke="#8c8c8c" stroke-width="0.8" />
<line x1="628.50" y1="258.00" x2="628.50" y2="426.40" stroke="#9a9a9a" stroke-width="0.6" />
<defs><linearGradient id="tb" x1="0" y1="0" x2="0" y2="1"><stop offset="0" stop-color="#d9d9d9"/><stop offset="1" stop-color="#cdcdcd"/></linearGradient><linearGradient id="btn" x1="0" y1="0" x2="0" y2="1"><stop offset="0" stop-color="#f8f8f8"/><stop offset="1" stop-color="#dcdcdc"/></linearGradient></defs>
<rect x="334.70" y="252.00" width="294.00" height="5.90" fill="url(#tb)" stroke="none" stroke-width="0.5" />
<rect x="560.00" y="252.00" width="40.00" height="5.90" fill="#c7c7c7" stroke="none" stroke-width="0.5" />
<rect x="600.00" y="252.00" width="17.00" height="5.90" fill="#98c890" stroke="none" stroke-width="0.5" />
<rect x="600.00" y="252.00" width="17.00" height="1.20" fill="#5b63a6" stroke="none" stroke-width="0.5" />
<rect x="617.00" y="252.00" width="11.60" height="3.80" fill="#c9463c" stroke="none" stroke-width="0.5" />
<rect x="617.00" y="255.80" width="11.60" height="2.10" fill="#8cc088" stroke="none" stroke-width="0.5" />
<path d="M380,256.8 C395,254.6 410,253.4 425,253.6 C430,253.8 432,255.6 434,257.9" fill="none" stroke="#d49090" stroke-width="0.7"/>
<path d="M432,257.9 C440,255.6 450,254.9 470,254.6 L545,254.6 C548,254.9 550,256.1 551,257.9" fill="none" stroke="#8088c4" stroke-width="0.7"/>
<text x="335.80" y="256.12" font-size="3.4" fill="#4a4a5a" text-anchor="start" textLength="48" lengthAdjust="spacingAndGlyphs">Serial Programmable Test Setting</text>
<line x1="335.00" y1="257.90" x2="628.40" y2="257.90" stroke="#b8b8b8" stroke-width="0.4" />
<text x="342.80" y="266.30" font-size="3.6" fill="#1a1a1a" font-weight="bold" text-anchor="start" textLength="11" lengthAdjust="spacingAndGlyphs">Cycles</text>
<rect x="365.30" y="262.10" width="19.20" height="5.10" fill="#fff" stroke="#a0a0a0" stroke-width="0.4" />
<text x="382.50" y="266.02" font-size="3.4" fill="#1a1a1a" font-weight="bold" text-anchor="end">1</text>
<rect x="341.60" y="270.30" width="259.00" height="44.80" fill="#fff" stroke="none" stroke-width="0.5" />
<rect x="341.90" y="270.60" width="258.50" height="4.30" fill="#f6f6f6" stroke="none" stroke-width="0.5" />
<line x1="341.60" y1="270.40" x2="600.60" y2="270.40" stroke="#a4a4a4" stroke-width="0.6" />
<line x1="341.70" y1="270.30" x2="341.70" y2="315.00" stroke="#707070" stroke-width="0.7" />
<line x1="341.60" y1="314.90" x2="600.60" y2="314.90" stroke="#e2e2e2" stroke-width="0.5" />
<line x1="600.50" y1="270.30" x2="600.50" y2="315.00" stroke="#e6e6e6" stroke-width="0.5" />
<line x1="341.90" y1="275.00" x2="600.40" y2="275.00" stroke="#8e8e8e" stroke-width="0.6" />
<rect x="341.90" y="275.20" width="258.40" height="4.10" fill="#f0f0f0" stroke="none" stroke-width="0.5" />
<line x1="341.90" y1="279.40" x2="600.30" y2="279.40" stroke="#e6e6e6" stroke-width="0.4" />
<line x1="341.90" y1="283.60" x2="600.30" y2="283.60" stroke="#e6e6e6" stroke-width="0.4" />
<line x1="341.90" y1="287.80" x2="600.30" y2="287.80" stroke="#e6e6e6" stroke-width="0.4" />
<line x1="341.90" y1="291.90" x2="600.30" y2="291.90" stroke="#e6e6e6" stroke-width="0.4" />
<line x1="341.90" y1="296.00" x2="600.30" y2="296.00" stroke="#e6e6e6" stroke-width="0.4" />
<line x1="341.90" y1="300.10" x2="600.30" y2="300.10" stroke="#e6e6e6" stroke-width="0.4" />
<line x1="341.90" y1="304.20" x2="600.30" y2="304.20" stroke="#e6e6e6" stroke-width="0.4" />
<line x1="341.90" y1="308.30" x2="600.30" y2="308.30" stroke="#e6e6e6" stroke-width="0.4" />
<line x1="341.90" y1="312.40" x2="600.30" y2="312.40" stroke="#e6e6e6" stroke-width="0.4" />
<text x="342.90" y="273.95" font-size="3.2" fill="#333" text-anchor="start">No</text>
<line x1="352.60" y1="270.80" x2="352.60" y2="274.90" stroke="#9a9a9a" stroke-width="0.45" />
<line x1="352.60" y1="275.20" x2="352.60" y2="314.80" stroke="#ececec" stroke-width="0.4" />
<text x="353.90" y="273.95" font-size="3.2" fill="#333" text-anchor="start">Dir</text>
<line x1="364.50" y1="270.80" x2="364.50" y2="274.90" stroke="#9a9a9a" stroke-width="0.45" />
<line x1="364.50" y1="275.20" x2="364.50" y2="314.80" stroke="#ececec" stroke-width="0.4" />
<text x="365.80" y="273.95" font-size="3.2" fill="#333" text-anchor="start">Speed</text>
<line x1="391.70" y1="270.80" x2="391.70" y2="274.90" stroke="#9a9a9a" stroke-width="0.45" />
<line x1="391.70" y1="275.20" x2="391.70" y2="314.80" stroke="#ececec" stroke-width="0.4" />
<text x="393.00" y="273.95" font-size="3.2" fill="#333" text-anchor="start">Target</text>
<line x1="418.20" y1="270.80" x2="418.20" y2="274.90" stroke="#9a9a9a" stroke-width="0.45" />
<line x1="418.20" y1="275.20" x2="418.20" y2="314.80" stroke="#ececec" stroke-width="0.4" />
<text x="419.50" y="273.95" font-size="3.2" fill="#333" text-anchor="start">Stop</text>
<line x1="445.70" y1="270.80" x2="445.70" y2="274.90" stroke="#9a9a9a" stroke-width="0.45" />
<line x1="445.70" y1="275.20" x2="445.70" y2="314.80" stroke="#ececec" stroke-width="0.4" />
<text x="447.00" y="273.95" font-size="3.2" fill="#333" text-anchor="start">Dir</text>
<line x1="459.30" y1="270.80" x2="459.30" y2="274.90" stroke="#9a9a9a" stroke-width="0.45" />
<line x1="459.30" y1="275.20" x2="459.30" y2="314.80" stroke="#ececec" stroke-width="0.4" />
<text x="460.60" y="273.95" font-size="3.2" fill="#333" text-anchor="start">Speed</text>
<line x1="487.20" y1="270.80" x2="487.20" y2="274.90" stroke="#9a9a9a" stroke-width="0.45" />
<line x1="487.20" y1="275.20" x2="487.20" y2="314.80" stroke="#ececec" stroke-width="0.4" />
<text x="488.50" y="273.95" font-size="3.2" fill="#333" text-anchor="start">Target</text>
<line x1="514.40" y1="270.80" x2="514.40" y2="274.90" stroke="#9a9a9a" stroke-width="0.45" />
<line x1="514.40" y1="275.20" x2="514.40" y2="314.80" stroke="#ececec" stroke-width="0.4" />
<text x="515.70" y="273.95" font-size="3.2" fill="#333" text-anchor="start">Stop</text>
<line x1="541.40" y1="270.80" x2="541.40" y2="274.90" stroke="#9a9a9a" stroke-width="0.45" />
<line x1="541.40" y1="275.20" x2="541.40" y2="314.80" stroke="#ececec" stroke-width="0.4" />
<text x="542.70" y="273.95" font-size="3.2" fill="#333" text-anchor="start">Record</text>
<line x1="569.00" y1="270.80" x2="569.00" y2="274.90" stroke="#9a9a9a" stroke-width="0.45" />
<line x1="569.00" y1="275.20" x2="569.00" y2="314.80" stroke="#ececec" stroke-width="0.4" />
<text x="570.30" y="273.95" font-size="3.2" fill="#333" text-anchor="start">Repeat</text>
<line x1="583.60" y1="270.80" x2="583.60" y2="274.90" stroke="#9a9a9a" stroke-width="0.45" />
<text x="347.20" y="278.52" font-size="3.1" fill="#1a1a1a" font-weight="bold" text-anchor="middle">1</text>
<path d="M354.6,277.40 L357.4,275.80 L357.4,279.00 Z" fill="#c02cb0"/>
<text x="365.80" y="278.59" font-size="3.3" fill="#1a1a1a" font-weight="bold" text-anchor="start" textLength="19" lengthAdjust="spacingAndGlyphs">1.00mm/min</text>
<text x="392.80" y="278.59" font-size="3.3" fill="#1a1a1a" font-weight="bold" text-anchor="start" textLength="17.5" lengthAdjust="spacingAndGlyphs">0.40kgf-cm</text>
<rect x="419.70" y="276.10" width="2.60" height="2.60" fill="#fff" stroke="#666" stroke-width="0.35" />
<text x="423.80" y="278.55" font-size="3.2" fill="#1a1a1a" font-weight="bold" text-anchor="start">0.00</text>
<rect x="542.30" y="276.10" width="2.60" height="2.60" fill="#fff" stroke="#555" stroke-width="0.35" />
<line x1="542.80" y1="277.40" x2="544.40" y2="277.40" stroke="#333" stroke-width="0.3" />
<text x="546.00" y="278.55" font-size="3.2" fill="#1a1a1a" font-weight="bold" text-anchor="start">0.00</text>
<rect x="570.20" y="276.10" width="2.60" height="2.60" fill="#fff" stroke="#555" stroke-width="0.35" />
<text x="347.20" y="282.72" font-size="3.1" fill="#1a1a1a" font-weight="bold" text-anchor="middle">2</text>
<path d="M354.6,281.60 L357.4,280.00 L357.4,283.20 Z" fill="#c02cb0"/>
<text x="365.80" y="282.79" font-size="3.3" fill="#1a1a1a" font-weight="bold" text-anchor="start" textLength="19" lengthAdjust="spacingAndGlyphs">1.00mm/min</text>
<text x="392.80" y="282.79" font-size="3.3" fill="#1a1a1a" font-weight="bold" text-anchor="start" textLength="11.5" lengthAdjust="spacingAndGlyphs">49.00%</text>
<rect x="419.70" y="280.30" width="2.60" height="2.60" fill="#fff" stroke="#666" stroke-width="0.35" />
<text x="423.80" y="282.75" font-size="3.2" fill="#1a1a1a" font-weight="bold" text-anchor="start">0.00</text>
<rect x="542.30" y="280.30" width="2.60" height="2.60" fill="#fff" stroke="#555" stroke-width="0.35" />
<text x="546.00" y="282.75" font-size="3.2" fill="#1a1a1a" font-weight="bold" text-anchor="start">0.00</text>
<rect x="570.20" y="280.30" width="2.60" height="2.60" fill="#fff" stroke="#555" stroke-width="0.35" />
<rect x="607.60" y="269.40" width="13.20" height="11.90" fill="url(#btn)" stroke="#8c8c8c" stroke-width="0.45" rx="0.6"/>
<line x1="608.10" y1="281.10" x2="620.30" y2="281.10" stroke="#707070" stroke-width="0.4" />
<line x1="620.60" y1="269.90" x2="620.60" y2="280.80" stroke="#707070" stroke-width="0.4" />
<path d="M614.2,272.4 L617.8,277.8 L610.6,277.8 Z" fill="#a0a0a0"/>
<rect x="607.60" y="295.70" width="13.20" height="12.00" fill="url(#btn)" stroke="#8c8c8c" stroke-width="0.45" rx="0.6"/>
<line x1="608.10" y1="307.50" x2="620.30" y2="307.50" stroke="#707070" stroke-width="0.4" />
<line x1="620.60" y1="296.20" x2="620.60" y2="307.20" stroke="#707070" stroke-width="0.4" />
<path d="M610.6,299.2 L617.8,299.2 L614.2,304.6 Z" fill="#000"/>
<rect x="604.80" y="317.30" width="21.90" height="4.80" fill="url(#btn)" stroke="#8c8c8c" stroke-width="0.45" rx="0.6"/>
<line x1="605.30" y1="321.90" x2="626.20" y2="321.90" stroke="#707070" stroke-width="0.4" />
<line x1="626.50" y1="317.80" x2="626.50" y2="321.60" stroke="#707070" stroke-width="0.4" />
<text x="615.75" y="320.78" font-size="3.0" fill="#111" font-weight="bold" text-anchor="middle">Add</text>
<rect x="604.80" y="324.80" width="21.90" height="5.00" fill="url(#btn)" stroke="#8c8c8c" stroke-width="0.45" rx="0.6"/>
<line x1="605.30" y1="329.60" x2="626.20" y2="329.60" stroke="#707070" stroke-width="0.4" />
<line x1="626.50" y1="325.30" x2="626.50" y2="329.30" stroke="#707070" stroke-width="0.4" />
<text x="615.75" y="328.38" font-size="3.0" fill="#111" font-weight="bold" text-anchor="middle">Delete</text>
<rect x="604.80" y="332.90" width="21.90" height="5.10" fill="url(#btn)" stroke="#8c8c8c" stroke-width="0.45" rx="0.6"/>
<line x1="605.30" y1="337.80" x2="626.20" y2="337.80" stroke="#707070" stroke-width="0.4" />
<line x1="626.50" y1="333.40" x2="626.50" y2="337.50" stroke="#707070" stroke-width="0.4" />
<text x="615.75" y="336.53" font-size="3.0" fill="#111" font-weight="bold" text-anchor="middle">Modify</text>
<rect x="344.00" y="318.90" width="126.20" height="71.80" fill="none" stroke="#ffffff" stroke-width="0.5" rx="1"/>
<rect x="343.60" y="318.50" width="126.20" height="71.80" fill="none" stroke="#cdcdcd" stroke-width="0.5" rx="1"/>
<rect x="474.10" y="318.90" width="126.80" height="71.60" fill="none" stroke="#ffffff" stroke-width="0.5" rx="1"/>
<rect x="473.70" y="318.50" width="126.80" height="71.60" fill="none" stroke="#cdcdcd" stroke-width="0.5" rx="1"/>
<rect x="342.70" y="394.20" width="258.80" height="20.50" fill="none" stroke="#ffffff" stroke-width="0.5" rx="1"/>
<rect x="342.30" y="393.80" width="258.80" height="20.50" fill="none" stroke="#cdcdcd" stroke-width="0.5" rx="1"/>
<rect x="347.80" y="317.50" width="15.00" height="2.20" fill="#efefef" stroke="none" stroke-width="0.5" />
<rect x="345.20" y="318.30" width="2.60" height="2.60" fill="#fff" stroke="#707070" stroke-width="0.35" />
<path d="M345.70,319.60 L346.30,320.40 L347.40,318.80" fill="none" stroke="#111" stroke-width="0.5"/>
<text x="350.30" y="320.90" font-size="3.6" fill="#1a1a1a" font-weight="bold" text-anchor="start" textLength="11.5" lengthAdjust="spacingAndGlyphs">Torsion</text>
<text x="345.20" y="326.86" font-size="3.5" fill="#555" text-anchor="start">0 :</text>
<text x="353.20" y="326.90" font-size="3.6" fill="#1a1a1a" font-weight="bold" text-anchor="start">Zero</text>
<text x="345.20" y="342.56" font-size="3.5" fill="#555" text-anchor="start">2 :</text>
<text x="353.20" y="342.60" font-size="3.6" fill="#1a1a1a" font-weight="bold" text-anchor="start">Speed Mode</text>
<text x="345.20" y="352.46" font-size="3.5" fill="#555" text-anchor="start">3 :</text>
<text x="353.20" y="352.50" font-size="3.6" fill="#1a1a1a" font-weight="bold" text-anchor="start">Direction</text>
<text x="345.20" y="360.66" font-size="3.5" fill="#555" text-anchor="start">4 :</text>
<text x="353.20" y="360.70" font-size="3.6" fill="#1a1a1a" font-weight="bold" text-anchor="start">Speed</text>
<text x="345.20" y="368.56" font-size="3.5" fill="#555" text-anchor="start">5 :</text>
<text x="353.20" y="368.60" font-size="3.6" fill="#1a1a1a" font-weight="bold" text-anchor="start">Target Mode</text>
<text x="345.20" y="376.66" font-size="3.5" fill="#555" text-anchor="start">6 :</text>
<text x="353.20" y="376.70" font-size="3.6" fill="#1a1a1a" font-weight="bold" text-anchor="start">Target Value</text>
<text x="345.20" y="385.06" font-size="3.5" fill="#555" text-anchor="start">7 :</text>
<text x="353.20" y="385.10" font-size="3.6" fill="#1a1a1a" font-weight="bold" text-anchor="start">Stop</text>
<circle cx="381.10" cy="325.60" r="1.2" fill="#fff" stroke="#707070" stroke-width="0.35"/>
<text x="385.00" y="326.86" font-size="3.5" fill="#1a1a1a" font-weight="bold" text-anchor="start" textLength="10.3" lengthAdjust="spacingAndGlyphs">Torque</text>
<circle cx="411.10" cy="325.60" r="1.2" fill="#fff" stroke="#707070" stroke-width="0.35"/>
<text x="415.00" y="326.86" font-size="3.5" fill="#1a1a1a" font-weight="bold" text-anchor="start">Angle</text>
<rect x="378.40" y="338.50" width="85.40" height="5.30" fill="#fff" stroke="#a6a6a6" stroke-width="0.45" />
<rect x="460.40" y="338.90" width="3.00" height="4.50" fill="#e6e6e6" stroke="#b0b0b0" stroke-width="0.3" />
<path d="M461.20,340.60 L462.60,340.60 L461.90,341.60 Z" fill="#333"/>
<text x="379.60" y="342.25" font-size="3.2" fill="#111" font-weight="bold" text-anchor="start">001 Angular Speed</text>
<circle cx="380.70" cy="350.20" r="1.2" fill="#fff" stroke="#707070" stroke-width="0.35"/>
<rect x="382.70" y="345.50" width="8.70" height="9.30" fill="#fff" stroke="#b8b8b8" stroke-width="0.4" />
<rect x="383.10" y="345.90" width="7.90" height="8.50" fill="#1c4ea6" stroke="none" stroke-width="0.5" />
<path d="M384.8,347.4 L389.6,350.15 L384.8,352.9 Z" fill="#fff"/>
<circle cx="402.90" cy="350.20" r="1.2" fill="#fff" stroke="#707070" stroke-width="0.35"/>
<circle cx="402.90" cy="350.20" r="0.6" fill="#222"/>
<rect x="406.30" y="345.50" width="8.60" height="9.30" fill="#fff" stroke="#b8b8b8" stroke-width="0.4" />
<rect x="406.70" y="345.90" width="7.80" height="8.50" fill="#b03ca8" stroke="none" stroke-width="0.5" />
<path d="M412.8,347.4 L408.2,350.15 L412.8,352.9 Z" fill="#fff"/>
<rect x="379.50" y="356.75" width="18.70" height="5.30" fill="#fff" stroke="#a6a6a6" stroke-width="0.45" />
<text x="397.00" y="360.50" font-size="3.2" fill="#111" font-weight="bold" text-anchor="end">1.00</text>
<text x="401.20" y="360.59" font-size="3.3" fill="#1a1a1a" font-weight="bold" text-anchor="start" textLength="11.5" lengthAdjust="spacingAndGlyphs">rev/min</text>
<rect x="378.40" y="364.75" width="83.10" height="5.30" fill="#fff" stroke="#a6a6a6" stroke-width="0.45" />
<rect x="458.10" y="365.15" width="3.00" height="4.50" fill="#e6e6e6" stroke="#b0b0b0" stroke-width="0.3" />
<path d="M458.90,366.85 L460.30,366.85 L459.60,367.85 Z" fill="#333"/>
<text x="379.60" y="368.50" font-size="3.2" fill="#111" font-weight="bold" text-anchor="start">050 Over Torque Mode</text>
<rect x="379.50" y="372.80" width="18.70" height="5.30" fill="#fff" stroke="#a6a6a6" stroke-width="0.45" />
<text x="397.00" y="376.55" font-size="3.2" fill="#111" font-weight="bold" text-anchor="end">0.40</text>
<text x="401.20" y="376.59" font-size="3.3" fill="#1a1a1a" font-weight="bold" text-anchor="start" textLength="10.5" lengthAdjust="spacingAndGlyphs">kgf-cm</text>
<circle cx="381.10" cy="383.80" r="1.2" fill="#fff" stroke="#707070" stroke-width="0.35"/>
<text x="383.90" y="384.99" font-size="3.3" fill="#1a1a1a" font-weight="bold" text-anchor="start">Yes</text>
<rect x="392.60" y="381.15" width="31.50" height="5.30" fill="#ebebeb" stroke="#a6a6a6" stroke-width="0.45" />
<rect x="420.70" y="381.55" width="3.00" height="4.50" fill="#e6e6e6" stroke="#b0b0b0" stroke-width="0.3" />
<path d="M421.50,383.25 L422.90,383.25 L422.20,384.25 Z" fill="#333"/>
<text x="393.80" y="384.90" font-size="3.2" fill="#9a9a9a" font-weight="bold" text-anchor="start">00 Time</text>
<rect x="426.10" y="381.15" width="19.40" height="5.30" fill="#ebebeb" stroke="#a6a6a6" stroke-width="0.45" />
<text x="444.30" y="384.90" font-size="3.2" fill="#9a9a9a" font-weight="bold" text-anchor="end">0.00</text>
<text x="448.00" y="384.99" font-size="3.3" fill="#1a1a1a" font-weight="bold" text-anchor="start">sec</text>
<rect x="478.80" y="317.50" width="14.00" height="2.20" fill="#efefef" stroke="none" stroke-width="0.5" />
<rect x="476.30" y="318.30" width="2.60" height="2.60" fill="#fff" stroke="#707070" stroke-width="0.35" />
<path d="M476.80,319.60 L477.40,320.40 L478.50,318.80" fill="none" stroke="#111" stroke-width="0.5"/>
<text x="481.40" y="320.90" font-size="3.6" fill="#1a1a1a" font-weight="bold" text-anchor="start" textLength="9.5" lengthAdjust="spacingAndGlyphs">Z axis</text>
<text x="476.30" y="326.86" font-size="3.5" fill="#555" text-anchor="start">1 :</text>
<text x="484.30" y="326.90" font-size="3.6" fill="#1a1a1a" font-weight="bold" text-anchor="start">Zero</text>
<text x="476.30" y="342.56" font-size="3.5" fill="#555" text-anchor="start">2 :</text>
<text x="484.30" y="342.60" font-size="3.6" fill="#1a1a1a" font-weight="bold" text-anchor="start">Speed Mode</text>
<text x="476.30" y="352.46" font-size="3.5" fill="#555" text-anchor="start">3 :</text>
<text x="484.30" y="352.50" font-size="3.6" fill="#1a1a1a" font-weight="bold" text-anchor="start">Direction</text>
<text x="476.30" y="360.66" font-size="3.5" fill="#555" text-anchor="start">4 :</text>
<text x="484.30" y="360.70" font-size="3.6" fill="#1a1a1a" font-weight="bold" text-anchor="start">Speed</text>
<text x="476.30" y="368.56" font-size="3.5" fill="#555" text-anchor="start">5 :</text>
<text x="484.30" y="368.60" font-size="3.6" fill="#1a1a1a" font-weight="bold" text-anchor="start">Target Mode</text>
<text x="476.30" y="376.66" font-size="3.5" fill="#555" text-anchor="start">6 :</text>
<text x="484.30" y="376.70" font-size="3.6" fill="#1a1a1a" font-weight="bold" text-anchor="start">Target Value</text>
<text x="476.30" y="385.06" font-size="3.5" fill="#555" text-anchor="start">7 :</text>
<text x="484.30" y="385.10" font-size="3.6" fill="#1a1a1a" font-weight="bold" text-anchor="start">Stop</text>
<circle cx="512.60" cy="325.60" r="1.2" fill="#fff" stroke="#707070" stroke-width="0.35"/>
<text x="516.50" y="326.86" font-size="3.5" fill="#1a1a1a" font-weight="bold" text-anchor="start" textLength="19" lengthAdjust="spacingAndGlyphs">Z Coordinate</text>
<rect x="509.80" y="338.50" width="85.00" height="5.30" fill="#fff" stroke="#a6a6a6" stroke-width="0.45" />
<rect x="591.40" y="338.90" width="3.00" height="4.50" fill="#e6e6e6" stroke="#b0b0b0" stroke-width="0.3" />
<path d="M592.20,340.60 L593.60,340.60 L592.90,341.60 Z" fill="#333"/>
<text x="511.00" y="342.25" font-size="3.2" fill="#111" font-weight="bold" text-anchor="start">100 Z Coordinate Speed</text>
<circle cx="511.90" cy="350.20" r="1.2" fill="#fff" stroke="#707070" stroke-width="0.35"/>
<rect x="513.70" y="345.50" width="8.70" height="9.30" fill="#fff" stroke="#b8b8b8" stroke-width="0.4" />
<rect x="514.10" y="345.90" width="7.90" height="8.50" fill="#1c4ea6" stroke="none" stroke-width="0.5" />
<path d="M518.05,347.4 L520.8,352.9 L515.3,352.9 Z" fill="#fff"/>
<circle cx="533.90" cy="350.20" r="1.2" fill="#fff" stroke="#707070" stroke-width="0.35"/>
<circle cx="533.90" cy="350.20" r="0.6" fill="#222"/>
<rect x="537.30" y="345.50" width="9.10" height="9.30" fill="#fff" stroke="#b8b8b8" stroke-width="0.4" />
<rect x="537.70" y="345.90" width="8.30" height="8.50" fill="#b03ca8" stroke="none" stroke-width="0.5" />
<path d="M539.1,347.4 L544.6,347.4 L541.85,352.9 Z" fill="#fff"/>
<rect x="510.60" y="356.75" width="18.70" height="5.30" fill="#fff" stroke="#a6a6a6" stroke-width="0.45" />
<text x="528.10" y="360.50" font-size="3.2" fill="#111" font-weight="bold" text-anchor="end">100</text>
<text x="531.80" y="360.59" font-size="3.3" fill="#1a1a1a" font-weight="bold" text-anchor="start" textLength="12" lengthAdjust="spacingAndGlyphs">mm/min</text>
<rect x="509.80" y="364.75" width="82.80" height="5.30" fill="#fff" stroke="#a6a6a6" stroke-width="0.45" />
<rect x="589.20" y="365.15" width="3.00" height="4.50" fill="#e6e6e6" stroke="#b0b0b0" stroke-width="0.3" />
<path d="M590.00,366.85 L591.40,366.85 L590.70,367.85 Z" fill="#333"/>
<text x="511.00" y="368.50" font-size="3.2" fill="#111" font-weight="bold" text-anchor="start">200 Over Z Coordinate Mode</text>
<rect x="510.60" y="372.80" width="18.70" height="5.30" fill="#fff" stroke="#a6a6a6" stroke-width="0.45" />
<text x="528.10" y="376.55" font-size="3.2" fill="#111" font-weight="bold" text-anchor="end">10</text>
<text x="531.80" y="376.59" font-size="3.3" fill="#1a1a1a" font-weight="bold" text-anchor="start">mm</text>
<circle cx="512.60" cy="383.80" r="1.2" fill="#fff" stroke="#707070" stroke-width="0.35"/>
<text x="515.40" y="384.99" font-size="3.3" fill="#1a1a1a" font-weight="bold" text-anchor="start">Yes</text>
<rect x="523.20" y="381.15" width="32.40" height="5.30" fill="#ebebeb" stroke="#a6a6a6" stroke-width="0.45" />
<rect x="552.20" y="381.55" width="3.00" height="4.50" fill="#e6e6e6" stroke="#b0b0b0" stroke-width="0.3" />
<path d="M553.00,383.25 L554.40,383.25 L553.70,384.25 Z" fill="#333"/>
<text x="524.40" y="384.90" font-size="3.2" fill="#9a9a9a" font-weight="bold" text-anchor="start">01 Time</text>
<rect x="557.20" y="381.15" width="19.20" height="5.30" fill="#ebebeb" stroke="#a6a6a6" stroke-width="0.45" />
<text x="579.20" y="384.99" font-size="3.3" fill="#1a1a1a" font-weight="bold" text-anchor="start">sec</text>
<text x="345.20" y="401.66" font-size="3.5" fill="#555" text-anchor="start">8 :</text>
<text x="352.90" y="401.70" font-size="3.6" fill="#1a1a1a" font-weight="bold" text-anchor="start" textLength="11.8" lengthAdjust="spacingAndGlyphs">Record</text>
<text x="345.20" y="409.46" font-size="3.5" fill="#555" text-anchor="start">9 :</text>
<text x="352.90" y="409.50" font-size="3.6" fill="#1a1a1a" font-weight="bold" text-anchor="start" textLength="11.8" lengthAdjust="spacingAndGlyphs">Repeat</text>
<rect x="378.40" y="399.10" width="2.60" height="2.60" fill="#fff" stroke="#707070" stroke-width="0.35" />
<path d="M378.90,400.40 L379.50,401.20 L380.60,399.60" fill="none" stroke="#111" stroke-width="0.5"/>
<text x="383.00" y="401.59" font-size="3.3" fill="#1a1a1a" font-weight="bold" text-anchor="start">Yes</text>
<rect x="392.10" y="398.00" width="32.40" height="5.30" fill="#fff" stroke="#555" stroke-width="0.45" />
<rect x="421.10" y="398.40" width="3.00" height="4.50" fill="#e6e6e6" stroke="#b0b0b0" stroke-width="0.3" />
<path d="M421.90,400.10 L423.30,400.10 L422.60,401.10 Z" fill="#333"/>
<text x="393.30" y="401.75" font-size="3.2" fill="#111" font-weight="bold" text-anchor="start">00 Time</text>
<rect x="426.30" y="398.00" width="20.20" height="5.30" fill="#fff" stroke="#a6a6a6" stroke-width="0.45" />
<text x="445.30" y="401.75" font-size="3.2" fill="#111" font-weight="bold" text-anchor="end">0.27</text>
<text x="448.80" y="401.79" font-size="3.3" fill="#1a1a1a" font-weight="bold" text-anchor="start">sec</text>
<circle cx="379.90" cy="408.20" r="1.2" fill="#fff" stroke="#707070" stroke-width="0.35"/>
<text x="383.00" y="409.39" font-size="3.3" fill="#1a1a1a" font-weight="bold" text-anchor="start">Yes</text>
<rect x="446.60" y="418.30" width="20.20" height="5.60" fill="url(#btn)" stroke="#8c8c8c" stroke-width="0.45" rx="0.6"/>
<line x1="447.10" y1="423.70" x2="466.30" y2="423.70" stroke="#707070" stroke-width="0.4" />
<line x1="466.60" y1="418.80" x2="466.60" y2="423.40" stroke="#707070" stroke-width="0.4" />
<text x="456.70" y="422.18" font-size="3.0" fill="#111" font-weight="bold" text-anchor="middle">OK</text>
<rect x="494.30" y="417.90" width="20.20" height="6.00" fill="url(#btn)" stroke="#8c8c8c" stroke-width="0.45" rx="0.6"/>
<line x1="494.80" y1="423.70" x2="514.00" y2="423.70" stroke="#707070" stroke-width="0.4" />
<line x1="514.30" y1="418.40" x2="514.30" y2="423.40" stroke="#707070" stroke-width="0.4" />
<text x="504.40" y="421.98" font-size="3.0" fill="#111" font-weight="bold" text-anchor="middle">Cancel</text>
</svg>
<div class="cap" style="left:92.62px;top:206.70px;font-size:11.8px;letter-spacing:0.216px">木材旋入阻力 (EN14592)</div>
<div class="cap" style="left:76.00px;top:219.44px;font-size:12.0px;letter-spacing:-0.054px">Torsional resistance - EN 14592</div>
<div class="cap" style="left:443.54px;top:207.18px;font-size:11.8px;letter-spacing:0.396px">螺絲扭斷測試</div>
<div class="cap" style="left:445.56px;top:220.88px;font-size:11.5px;letter-spacing:0.000px">Breaking Test</div>
<div class="cap" style="left:138.56px;top:435.16px;font-size:11.8px;letter-spacing:0.660px">測試報表</div>
<div class="cap" style="left:134.58px;top:448.38px;font-size:11.5px;letter-spacing:-0.252px">Test Report</div>
<div class="cap" style="left:439.02px;top:434.30px;font-size:11.8px;letter-spacing:0.240px">可程式測試設定</div>
<div class="cap" style="left:410.62px;top:448.90px;font-size:11.5px;letter-spacing:0.090px">Programmable Test Setting</div>
</body></html>
